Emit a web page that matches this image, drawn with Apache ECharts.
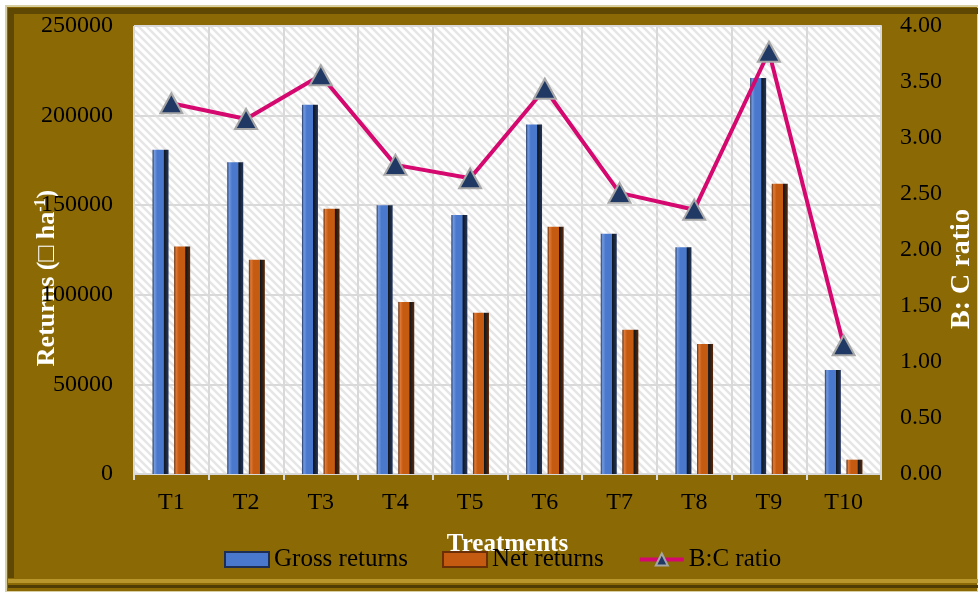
<html>
<head>
<meta charset="utf-8">
<title>Returns and B:C ratio</title>
<script src="https://cdn.jsdelivr.net/npm/echarts@6/dist/echarts.min.js"></script>
<style>
	body { margin: 0; background: #fff; }
</style>
</head>
<body>
	<div id="main" style="width: 978px; height: 592px;"></div>
	<script type="text/javascript">
		// data
		var treatments = ['T1', 'T2', 'T3', 'T4', 'T5', 'T6', 'T7', 'T8', 'T9', 'T10'];
		var grossReturns = [181000, 174000, 206000, 150000, 144500, 195000, 134000, 126500, 221000, 58000];
		var netReturns = [127000, 119500, 148000, 96000, 90000, 138000, 80500, 72500, 162000, 8000];
		var bcRatio = [3.31, 3.17, 3.56, 2.76, 2.64, 3.44, 2.51, 2.36, 3.77, 1.15];
		var leftTicks = [0, 250000, 50000];   // min, max, step
		var rightTicks = [0, 4, 0.5];

		var FONT = 'Liberation Serif';
		var OLIVE = '#8B6A05';

		// diagonal hatch for the plot area
		function hatch() {
			var c = document.createElement('canvas');
			c.width = 8; c.height = 8;
			var g = c.getContext('2d');
			g.fillStyle = '#ffffff';
			g.fillRect(0, 0, 8, 8);
			g.strokeStyle = '#e6e6e6';
			g.lineWidth = 2.5;
			g.beginPath();
			g.moveTo(-2, -2); g.lineTo(10, 10);
			g.moveTo(-2, 6); g.lineTo(2, 10);
			g.moveTo(6, -2); g.lineTo(10, 2);
			g.stroke();
			return { image: c, repeat: 'repeat' };
		}

		function bevel(light, main, dark) {
			return {
				type: 'linear', x: 0, y: 0, x2: 1, y2: 0,
				colorStops: [
					{ offset: 0, color: dark },
					{ offset: 0.12, color: light },
					{ offset: 0.3, color: main },
					{ offset: 0.68, color: main },
					{ offset: 0.72, color: '#101820' },
					{ offset: 1, color: dark }
				]
			};
		}

		var myChart = echarts.init(document.getElementById('main'));

		myChart.setOption({
			backgroundColor: '#ffffff',
			textStyle: { fontFamily: FONT },
			graphic: [
				{ type: 'rect', z: -10, shape: { x: 6, y: 6, width: 972, height: 586 },
				  style: { fill: OLIVE, stroke: '#d8cfa4', lineWidth: 2 } },
				{ type: 'rect', z: -9, shape: { x: 8, y: 8, width: 970, height: 6 },
				  style: { fill: '#5e4804' } },
				{ type: 'rect', z: -9, shape: { x: 8, y: 8, width: 6, height: 570 },
				  style: { fill: '#5e4804' } },
				{ type: 'rect', z: -9, shape: { x: 8, y: 579, width: 970, height: 4 },
				  style: { fill: '#b8962c' } },
				{ type: 'rect', z: -9, shape: { x: 8, y: 585, width: 970, height: 3 },
				  style: { fill: '#4f3c05' } }
			],
			grid: {
				left: 134,
				right: 97,
				top: 26,
				bottom: 118,
				containLabel: false,
				outerBoundsMode: 'none',
				show: true,
				backgroundColor: hatch(),
				borderWidth: 0
			},
			legend: {
				left: 219,
				top: 542,
				itemWidth: 44,
				itemHeight: 15,
				itemGap: 34,
				textStyle: { fontFamily: FONT, fontSize: 25, color: '#000' },
				data: [
					{ name: 'Gross returns', icon: 'rect', itemStyle: { color: '#4a78cc', borderColor: '#1c2e55', borderWidth: 2 } },
					{ name: 'Net returns', icon: 'rect', itemStyle: { color: '#c55a11', borderColor: '#6b2f08', borderWidth: 2 } },
					{ name: 'B:C ratio', lineStyle: { width: 4, color: '#d4086f' } }
				]
			},
			xAxis: [{
				type: 'category',
				data: treatments,
				name: 'Treatments',
				nameLocation: 'middle',
				nameGap: 58,
				nameMoveOverlap: false,
				nameTextStyle: { fontFamily: FONT, fontSize: 25, fontWeight: 'bold', color: '#fff' },
				axisLine: { lineStyle: { color: '#d9d9d9', width: 2 } },
				axisTick: { show: true, length: 6, lineStyle: { color: '#d9d9d9', width: 2 } },
				axisLabel: { interval: 0, fontFamily: FONT, fontSize: 24, color: '#000', margin: 17 },
				splitLine: { show: true, interval: 0, lineStyle: { color: '#d9d9d9', width: 2 } }
			}],
			yAxis: [{
				type: 'value',
				min: leftTicks[0],
				max: leftTicks[1],
				interval: leftTicks[2],
				name: 'Returns (\u25A1 ha{sup|-1})',
				nameLocation: 'middle',
				nameGap: 72,
				nameMoveOverlap: false,
				nameTextStyle: {
					fontFamily: FONT, fontSize: 26, fontWeight: 'bold', color: '#fff',
					padding: [0, 56, 0, 0],
					rich: { sup: { fontFamily: FONT, fontSize: 16, fontWeight: 'bold', color: '#fff', padding: [0, 0, 13, 0] } }
				},
				axisLine: { show: false },
				axisTick: { show: false },
				axisLabel: {
					fontFamily: FONT, fontSize: 24, color: '#000', margin: 21,
					formatter: function (v) { return String(v); }
				},
				splitLine: { show: true, lineStyle: { color: '#d9d9d9', width: 2 } }
			}, {
				type: 'value',
				min: rightTicks[0],
				max: rightTicks[1],
				interval: rightTicks[2],
				name: 'B: C ratio',
				nameLocation: 'middle',
				nameGap: 67,
				nameMoveOverlap: false,
				nameTextStyle: {
					fontFamily: FONT, fontSize: 28, fontWeight: 'bold', color: '#fff',
					padding: [0, 38, 0, 0]
				},
				axisLine: { show: true, lineStyle: { color: '#d9d9d9', width: 2 } },
				axisTick: { show: false },
				axisLabel: {
					fontFamily: FONT, fontSize: 24, color: '#000', margin: 19,
					formatter: function (v) { return v.toFixed(2); }
				},
				splitLine: { show: false }
			}],
			series: [{
				name: 'Gross returns',
				type: 'bar',
				barWidth: 16,
				barGap: '35%',
				itemStyle: { color: bevel('#7199e0', '#4a78cc', '#22355e') },
				data: grossReturns
			}, {
				name: 'Net returns',
				type: 'bar',
				barWidth: 16,
				itemStyle: { color: bevel('#e07a36', '#c55a11', '#5c2705') },
				data: netReturns
			}, {
				name: 'B:C ratio',
				type: 'line',
				yAxisIndex: 1,
				z: 5,
				symbol: 'triangle',
				symbolSize: [22, 20],
				lineStyle: { color: '#d4086f', width: 4 },
				itemStyle: { color: '#1f3864', borderColor: '#a6a6a6', borderWidth: 2 },
				data: bcRatio
			}]
		});
	</script>
</body>
</html>
